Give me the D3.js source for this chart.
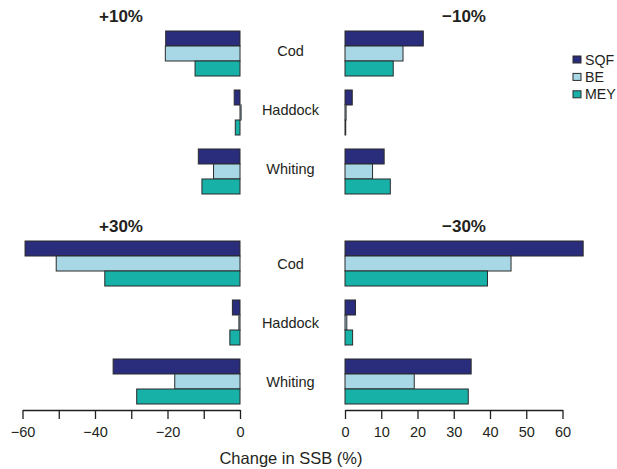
<!DOCTYPE html>
<html lang="en">
    <head>
        <meta charset="utf-8">
        <title>Change in SSB</title>
        <style>
            body, html {
                margin: 0;
                padding: 0;
                background: #fff;
            }
            svg {
                font-family: "Liberation Sans", Arial, sans-serif;
            }
            .axis path, .axis line {
                fill: none;
                stroke: #231f20;
                stroke-width: 1.3px;
            }
            .axis text {
                font-size: 14.5px;
                fill: #231f20;
            }
            rect.bar {
                stroke: #2b2b2b;
                stroke-width: 1px;
            }
        </style>
        <script src="https://d3js.org/d3.v7.min.js"></script>
    </head>
    <body>
        <svg id="chart" width="617" height="469"></svg>
        <script type="text/javascript">
            // categories and series
            var species = ["Cod", "Haddock", "Whiting"];
            var series = ["SQF", "BE", "MEY"];
            var colors = ["#2a2d7c", "#a8d8e6", "#18b1a8"];

            // change in SSB (%), one row per species: [SQF, BE, MEY]
            var plus10  = [[-20.5, -20.6, -12.4], [-1.6, 0.3, -1.3], [-11.5, -7.3, -10.5]];
            var minus10 = [[21.6, 16.0, 13.3], [2.0, 0.3, 0.2], [10.8, 7.6, 12.5]];
            var plus30  = [[-59.3, -50.7, -37.3], [-2.1, -0.3, -2.8], [-35.0, -18.0, -28.5]];
            var minus30 = [[65.7, 45.8, 39.3], [2.9, 0.5, 2.1], [34.8, 19.1, 34.0]];

            var leftTicks = [-60, -50, -40, -30, -20, -10, 0];
            var rightTicks = [0, 10, 20, 30, 40, 50, 60];

            var svg = d3.select("#chart");

            var xLeft = d3.scaleLinear().domain([-60, 0]).range([22.5, 240]);
            var xRight = d3.scaleLinear().domain([0, 60]).range([345, 562.5]);

            var rows = [
                {top: 31, labelDy: 2.3},
                {top: 241, labelDy: 5.5}
            ];

            var panels = [
                {title: "+10%", data: plus10, x: xLeft, row: 0, tx: 121},
                {title: "\u221210%", data: minus10, x: xRight, row: 0, tx: 464},
                {title: "+30%", data: plus30, x: xLeft, row: 1, tx: 121},
                {title: "\u221230%", data: minus30, x: xRight, row: 1, tx: 464}
            ];

            panels.forEach(function(p) {
                var r = rows[p.row];
                var y = d3.scaleBand()
                    .domain(species)
                    .range([r.top, r.top + 163])
                    .paddingInner(0.237);
                var yInner = d3.scaleBand()
                    .domain(series)
                    .range([0, y.bandwidth()]);

                var g = svg.append("g");

                g.append("text")
                    .attr("x", p.tx)
                    .attr("y", r.top - 9)
                    .attr("text-anchor", "middle")
                    .style("font-size", "17px")
                    .style("font-weight", "bold")
                    .style("fill", "#231f20")
                    .text(p.title);

                var groups = g.selectAll(".group")
                    .data(p.data)
                    .enter().append("g")
                        .attr("class", "group")
                        .attr("transform", function(d, i) { return "translate(0," + y(species[i]) + ")"; });

                groups.selectAll("rect")
                    .data(function(d) { return d; })
                    .enter().append("rect")
                        .attr("class", "bar")
                        .attr("x", function(d) { return p.x(Math.min(0, d)); })
                        .attr("y", function(d, i) { return yInner(series[i]); })
                        .attr("width", function(d) { return Math.abs(p.x(d) - p.x(0)); })
                        .attr("height", yInner.bandwidth())
                        .style("fill", function(d, i) { return colors[i]; });
            });

            // species labels between the panels
            rows.forEach(function(r) {
                var y = d3.scaleBand()
                    .domain(species)
                    .range([r.top, r.top + 163])
                    .paddingInner(0.237);
                svg.append("g").selectAll("text")
                    .data(species)
                    .enter().append("text")
                        .attr("x", 290.5)
                        .attr("y", function(d) { return y(d) + y.bandwidth() / 2 + r.labelDy; })
                        .attr("text-anchor", "middle")
                        .style("font-size", "14.5px")
                        .style("fill", "#231f20")
                        .text(function(d) { return d; });
            });

            // axes on the bottom row only
            svg.append("g")
                .attr("class", "axis")
                .attr("transform", "translate(0,410)")
                .call(d3.axisBottom(xLeft)
                    .tickValues(leftTicks)
                    .tickSize(9)
                    .tickSizeOuter(0)
                    .tickPadding(8)
                    .tickFormat(function(d) { return d % 20 === 0 ? d3.format("d")(d) : ""; }));

            svg.append("g")
                .attr("class", "axis")
                .attr("transform", "translate(0,410)")
                .call(d3.axisBottom(xRight)
                    .tickValues(rightTicks)
                    .tickSize(9)
                    .tickSizeOuter(0)
                    .tickPadding(8)
                    .tickFormat(d3.format("d")));

            svg.selectAll(".axis text").style("font-family", "\"Liberation Sans\", Arial, sans-serif");

            svg.append("text")
                .attr("x", 291)
                .attr("y", 464)
                .attr("text-anchor", "middle")
                .style("font-size", "16.5px")
                .style("fill", "#231f20")
                .text("Change in SSB (%)");

            // legend
            var legend = svg.append("g")
                .attr("transform", "translate(573,56)");

            var item = legend.selectAll(".legenditem")
                .data(series)
                .enter().append("g")
                    .attr("class", "legenditem")
                    .attr("transform", function(d, i) { return "translate(0," + i * 17.4 + ")"; });

            item.append("rect")
                .attr("width", 8)
                .attr("height", 7)
                .style("fill", function(d, i) { return colors[i]; })
                .style("stroke", "#2b2b2b")
                .style("stroke-width", "1px");

            item.append("text")
                .attr("x", 12)
                .attr("y", 8.5)
                .style("font-size", "14.2px")
                .style("fill", "#231f20")
                .text(function(d) { return d; });
        </script>
    </body>
</html>
